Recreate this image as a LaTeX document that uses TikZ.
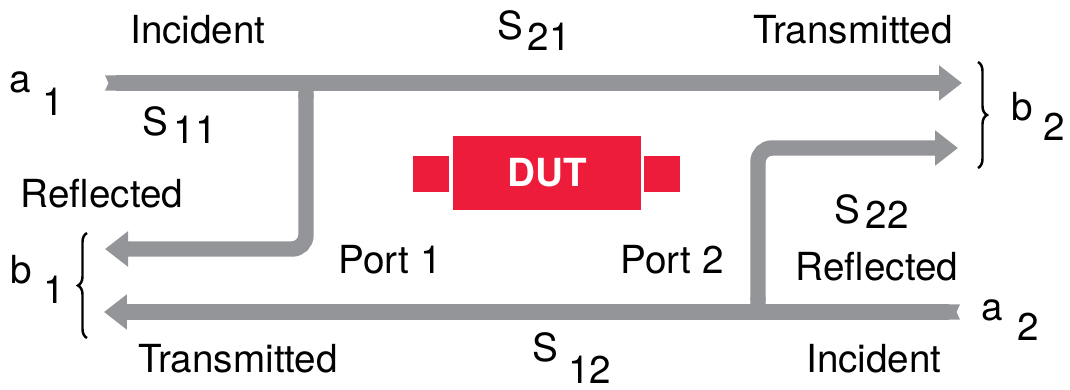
\documentclass[tikz,border=0pt]{standalone}
\usepackage{fontspec}
\setmainfont{TeX Gyre Heros}
\usepackage{tikz}
\usetikzlibrary{arrows.meta, decorations.pathreplacing}
\definecolor{flowgray}{HTML}{939598}
\definecolor{dutred}{HTML}{ED1C3A}
\newcommand{\spar}[4]{#1\hspace*{#3}\raisebox{-#4}{#2}}

\begin{document}
\begin{tikzpicture}[
  font=\fontsize{11}{13}\selectfont,
  flow/.style={draw=flowgray, line width=4.4pt, rounded corners=0.14cm,
    {Triangle Cap[reversed,length=1pt]}-{Triangle[length=0.23cm,width=0.34cm]}},
  lbl/.style={inner sep=0pt, anchor=base},
  par/.style={inner sep=0pt, anchor=base west},
  bracket/.style={draw, line width=0.7pt, decorate, decoration={brace, amplitude=0.09cm}}
]
\useasboundingbox (0,0) rectangle (10.70,-3.89);

% ports of the flow graph
\coordinate (in1) at (1.05,-0.83);
\coordinate (out2a) at (9.62,-0.83);
\coordinate (j11) at (3.06,-0.83);
\coordinate (out1a) at (1.05,-2.49);
\coordinate (in2) at (9.60,-3.12);
\coordinate (out1b) at (1.04,-3.12);
\coordinate (j22) at (7.58,-3.12);
\coordinate (out2b) at (9.58,-1.48);

\draw[flow] (in1) -- (out2a);
\draw[flow] (j11) |- (out1a);
\draw[flow] (in2) -- (out1b);
\draw[flow] (j22) |- (out2b);

% device under test
\fill[dutred] (4.13,-1.56) rectangle (4.49,-1.92);
\fill[dutred] (6.44,-1.56) rectangle (6.80,-1.92);
\node[fill=dutred, minimum width=1.88cm, minimum height=0.74cm, inner sep=0pt,
  text=white, font=\fontsize{11}{13}\selectfont\bfseries] (dut) at (5.47,-1.73) {DUT};

% braces
\draw[bracket] (9.78,-0.62) -- (9.78,-1.68);
\draw[bracket] (0.87,-3.38) -- (0.87,-2.33);

% wave labels
\node[par] (a1) at (0.085,-0.92) {\spar{a}{1}{0.12cm}{0.23cm}};
\node[par] (b1) at (0.095,-2.83) {\spar{b}{1}{0.12cm}{0.20cm}};
\node[par] (b2) at (10.105,-1.20) {\spar{b}{2}{0.11cm}{0.20cm}};
\node[par] (a2) at (9.805,-3.20) {\spar{a}{2}{0.145cm}{0.20cm}};

\node[par] (s21) at (4.97,-0.39) {\spar{S}{21}{0.045cm}{0.11cm}};
\node[par] (s11) at (1.415,-1.35) {\spar{S}{11}{0.06cm}{0.08cm}};
\node[par] (s22) at (8.335,-2.23) {\spar{S}{22}{0.06cm}{0.05cm}};
\node[par] (s12) at (5.315,-3.61) {\spar{S}{12}{0.105cm}{0.22cm}};

\node[lbl] (inc1) at (1.98,-0.43) {Incident};
\node[lbl] (tr2) at (8.53,-0.43) {Transmitted};
\node[lbl] (ref1) at (1.02,-2.07) {Reflected};
\node[lbl] (port1) at (3.90,-2.73) {Port 1};
\node[lbl] (port2) at (6.72,-2.73) {Port 2};
\node[lbl] (ref2) at (8.77,-2.80) {Reflected};
\node[lbl] (tr1) at (2.38,-3.72) {Transmitted};
\node[lbl] (inc2) at (8.74,-3.72) {Incident};
\end{tikzpicture}
\end{document}
